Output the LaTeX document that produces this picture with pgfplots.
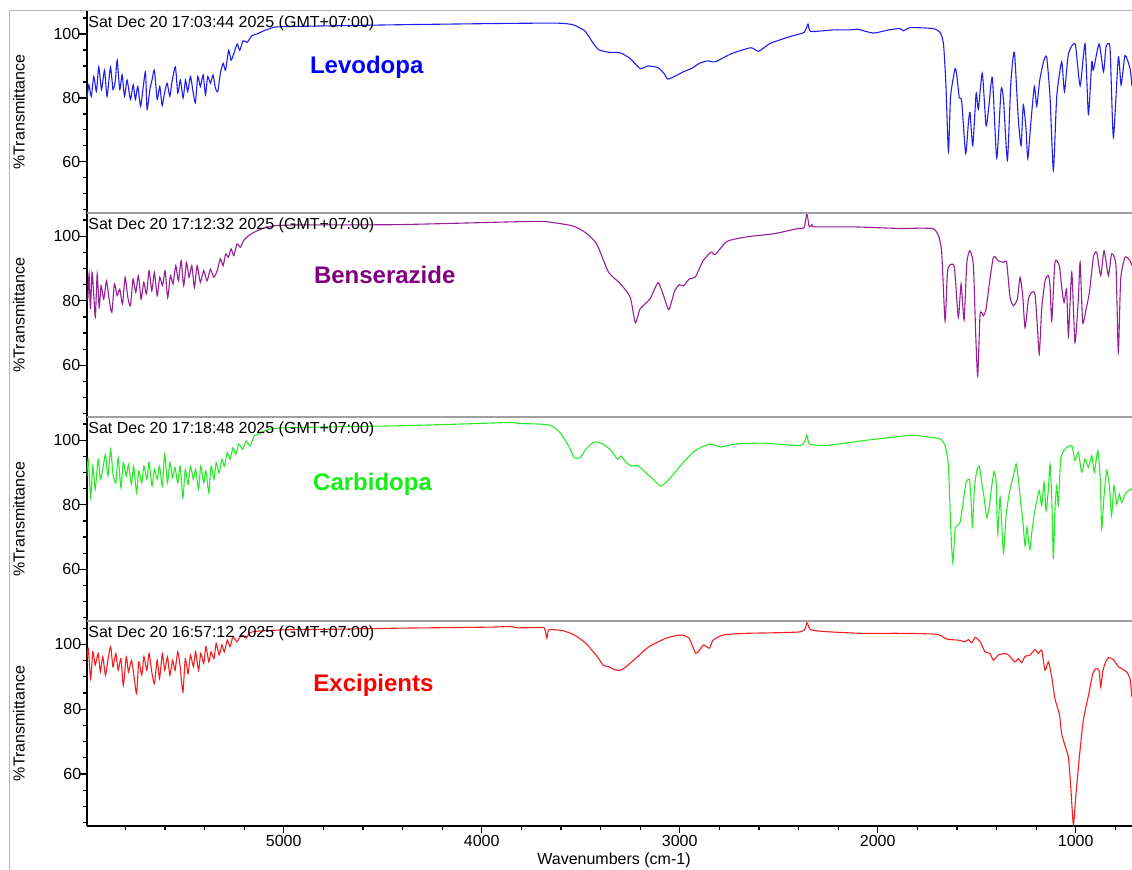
\documentclass[border=0pt]{standalone}
\usepackage{fontspec}
\setmainfont{Liberation Sans}
\usepackage{pgfplots}
\usepackage{pgfplotstable}
\pgfplotsset{compat=1.18}
\definecolor{cLev}{RGB}{30,30,240}
\definecolor{cLevT}{RGB}{0,0,255}
\definecolor{cBen}{RGB}{150,30,150}
\definecolor{cBenT}{RGB}{128,0,128}
\definecolor{cCar}{RGB}{40,235,40}
\definecolor{cCarT}{RGB}{20,240,20}
\definecolor{cExc}{RGB}{245,30,30}
\definecolor{cExcT}{RGB}{255,0,0}
\definecolor{sepgray}{RGB}{160,160,160}
\definecolor{framegray}{RGB}{180,180,180}

\pgfplotstableread{
x y
5993 80.0
5984 84.1
5972 80.5
5959 86.7
5946 82.0
5934 89.7
5920 82.6
5905 88.7
5892 80.5
5875 89.7
5862 82.6
5850 85.6
5841 91.8
5828 82.6
5816 87.2
5804 80.5
5791 85.6
5774 79.5
5760 84.1
5749 79.5
5737 83.6
5723 77.4
5710 83.1
5698 88.2
5690 76.4
5676 82.6
5665 85.6
5653 88.7
5639 79.5
5626 83.6
5614 77.6
5602 81.5
5589 84.6
5575 80.5
5564 85.1
5547 89.7
5535 81.5
5522 85.6
5508 80.0
5496 85.6
5485 82.0
5471 86.7
5458 82.0
5446 78.5
5434 86.7
5421 83.6
5407 87.2
5395 81.0
5384 86.7
5370 84.6
5357 87.2
5345 83.1
5333 82.0
5320 87.7
5306 90.8
5294 88.7
5278 94.9
5266 91.8
5252 93.8
5235 96.9
5222 94.9
5205 97.9
5185 97.4
5160 99.5
5135 100.0
5101 101.0
5050 102.1
5000 102.3
4916 102.4
4418 102.9
3899 103.3
3619 103.4
3540 102.9
3480 101.0
3440 97.4
3410 95.1
3360 94.3
3300 94.1
3250 92.3
3200 89.2
3160 90.0
3110 89.5
3080 87.7
3060 85.9
3021 86.9
2981 88.2
2941 89.2
2901 90.8
2861 91.6
2821 91.3
2741 93.8
2641 95.7
2601 94.6
2542 97.1
2442 99.2
2372 100.5
2352 103.1
2338 100.8
2222 101.3
2139 101.3
2102 101.5
2022 100.3
1943 101.3
1887 101.7
1870 101.0
1836 102.0
1719 101.7
1685 100.5
1668 96.9
1656 84.6
1643 63.1
1632 80.5
1609 89.2
1598 85.6
1588 80.0
1576 79.0
1556 62.6
1542 72.3
1534 75.4
1520 65.1
1503 81.5
1492 76.4
1472 87.7
1453 71.3
1438 77.9
1421 86.3
1399 61.2
1377 82.6
1365 79.5
1345 60.5
1328 84.6
1310 94.3
1290 73.3
1276 65.1
1265 77.9
1251 70.2
1242 61.0
1226 72.8
1209 83.6
1197 77.4
1183 85.1
1163 91.3
1147 92.8
1130 80.5
1113 57.4
1096 80.5
1071 91.3
1057 82.0
1037 93.8
1003 96.9
978 83.8
953 96.9
936 74.9
919 91.3
911 88.7
882 96.9
860 88.2
847 95.9
827 95.7
810 67.7
785 92.8
771 84.1
751 93.3
726 89.2
716 83.6
}\levodopa

\pgfplotstableread{
x y
5989 80.5
5983 88.3
5976 77.4
5968 88.8
5959 81.6
5951 74.8
5942 88.3
5932 77.9
5922 84.7
5909 80.5
5895 86.2
5882 80.5
5868 76.4
5855 85.2
5841 81.6
5828 83.6
5814 79.0
5801 87.3
5787 81.0
5774 78.4
5761 86.7
5747 82.6
5734 87.8
5720 80.5
5707 85.7
5693 82.1
5680 89.3
5666 83.1
5653 88.8
5639 81.6
5626 87.3
5612 84.7
5599 89.3
5586 81.0
5572 87.8
5559 85.2
5545 90.9
5532 86.2
5518 92.4
5505 84.7
5491 91.9
5478 87.3
5464 90.9
5451 84.1
5437 90.9
5421 85.7
5404 89.3
5387 86.2
5370 89.8
5353 87.3
5336 89.3
5320 93.0
5306 90.9
5293 94.5
5279 93.5
5266 96.1
5252 94.0
5236 97.6
5219 96.6
5202 98.7
5177 100.2
5151 101.2
5118 102.1
5084 102.8
5034 103.3
4916 103.5
4418 103.6
3739 104.6
3639 104.2
3540 103.2
3480 101.3
3420 97.7
3360 88.9
3300 85.3
3250 81.1
3224 73.2
3200 77.5
3150 80.6
3110 85.6
3085 82.2
3055 77.3
3025 83.2
3001 85.0
2981 84.6
2951 86.8
2921 87.4
2881 92.5
2841 95.1
2821 94.3
2761 98.4
2661 99.8
2522 100.8
2402 102.4
2372 102.6
2358 107.0
2346 102.9
2332 103.6
2318 102.9
2122 102.9
1887 102.4
1786 102.5
1719 102.3
1693 100.2
1677 95.0
1660 73.8
1648 88.8
1635 91.1
1613 90.4
1593 74.8
1579 85.2
1564 74.1
1550 91.9
1534 95.5
1517 90.9
1505 69.2
1495 56.7
1483 75.9
1466 75.4
1453 77.4
1441 83.1
1416 93.5
1391 92.4
1365 91.9
1349 91.9
1332 81.1
1315 78.5
1295 80.5
1281 87.3
1268 81.6
1256 71.7
1239 80.5
1222 82.6
1206 82.1
1194 72.3
1184 63.5
1172 77.4
1155 86.2
1138 87.8
1130 84.7
1121 73.8
1105 91.9
1083 90.9
1071 84.2
1059 79.5
1046 83.6
1037 69.2
1020 88.8
1004 67.1
987 80.5
978 91.9
965 73.3
948 77.4
931 82.6
911 93.5
894 95.0
874 87.8
857 95.5
835 87.8
819 94.5
797 90.9
785 64.0
773 86.7
751 93.5
726 92.4
716 90.9
}\benserazide

\pgfplotstableread{
x y
5995 88.9
5987 94.1
5975 82.2
5964 92.0
5952 84.8
5937 94.1
5926 87.9
5914 91.0
5900 95.6
5888 88.9
5874 97.2
5862 89.4
5848 86.8
5836 94.6
5822 85.3
5810 93.1
5795 88.9
5784 92.5
5769 86.3
5758 92.0
5743 83.7
5732 90.5
5717 86.8
5706 92.0
5691 87.9
5680 93.1
5665 85.8
5653 91.0
5639 87.9
5627 92.0
5613 85.8
5601 95.6
5587 86.8
5575 93.1
5561 88.4
5549 91.5
5535 86.8
5523 92.0
5509 82.2
5497 91.0
5483 86.3
5471 92.0
5456 87.9
5445 91.0
5430 84.8
5419 92.0
5404 86.8
5393 90.5
5378 83.7
5367 92.0
5352 87.9
5341 93.1
5326 89.9
5312 94.1
5300 92.0
5285 96.2
5271 94.1
5256 97.7
5242 95.6
5227 98.8
5207 97.2
5190 99.8
5170 98.2
5149 101.3
5126 101.9
5097 102.9
5054 103.6
4981 103.9
4691 104.2
4402 104.5
4112 105.0
3851 105.5
3822 105.2
3706 105.0
3648 104.5
3605 102.4
3561 98.2
3532 94.6
3503 94.6
3474 97.2
3431 99.5
3387 98.8
3344 96.7
3315 94.1
3295 95.1
3271 93.1
3242 92.0
3213 92.2
3170 89.9
3126 87.4
3097 85.8
3068 87.0
3025 89.9
2982 93.1
2924 96.7
2851 98.8
2793 97.9
2721 98.8
2576 99.1
2387 98.4
2358 101.6
2344 98.8
2257 98.4
2083 99.8
1887 101.2
1820 101.6
1736 100.9
1685 100.4
1660 98.3
1643 92.1
1631 72.5
1621 62.1
1609 72.5
1598 73.5
1584 74.6
1571 79.7
1554 86.9
1537 87.9
1530 82.8
1522 73.5
1512 84.9
1500 90.6
1487 91.9
1475 86.9
1463 82.3
1449 76.1
1436 79.7
1424 85.9
1412 90.3
1402 86.9
1394 70.9
1382 82.3
1365 65.2
1352 76.6
1335 83.8
1315 89.0
1301 92.6
1290 87.9
1278 80.7
1268 75.5
1256 67.3
1247 73.0
1239 69.4
1231 66.2
1222 71.4
1211 76.6
1197 81.2
1184 84.4
1172 79.7
1160 86.9
1150 78.1
1138 84.9
1130 92.6
1121 81.8
1113 63.1
1105 78.7
1096 85.9
1088 79.7
1076 94.2
1054 97.3
1020 98.3
1004 93.7
987 96.3
970 90.1
953 94.2
936 91.6
919 95.2
906 90.1
889 96.8
877 89.0
869 72.5
857 82.8
844 90.6
830 85.9
819 76.6
807 85.9
793 80.2
780 83.3
768 80.7
751 83.3
734 84.4
716 84.9
}\carbidopa

\pgfplotstableread{
x y
5995 95.1
5987 98.8
5975 89.4
5964 97.7
5952 93.6
5937 97.2
5926 91.5
5914 96.2
5900 90.5
5888 95.1
5874 99.3
5862 93.1
5848 97.2
5836 92.0
5822 95.6
5810 87.4
5795 96.2
5784 91.5
5769 95.1
5758 91.0
5743 84.8
5732 94.6
5717 90.5
5706 96.2
5691 92.0
5680 97.2
5665 91.0
5653 87.9
5639 95.1
5627 89.4
5613 97.2
5601 92.0
5587 96.2
5575 90.5
5561 95.1
5549 92.0
5535 97.7
5523 93.1
5509 85.3
5497 95.6
5483 91.0
5471 96.7
5456 93.1
5445 97.7
5430 92.0
5419 97.2
5404 94.1
5393 99.3
5378 94.6
5367 97.7
5352 95.6
5341 100.3
5326 96.7
5312 99.8
5300 97.7
5285 101.3
5271 99.3
5256 102.4
5236 100.8
5213 102.9
5190 101.9
5170 103.6
5126 104.1
4981 104.5
4691 104.7
4402 105.0
3967 105.3
3851 105.5
3822 105.1
3706 105.2
3683 105.0
3671 101.9
3660 104.5
3590 104.2
3532 102.9
3474 100.3
3416 96.2
3387 93.6
3358 93.1
3329 92.2
3300 92.0
3271 93.1
3213 96.2
3155 99.3
3068 101.9
2996 102.9
2953 101.9
2918 97.2
2880 99.8
2851 98.8
2831 101.3
2779 102.9
2663 103.4
2387 103.9
2358 106.7
2338 104.5
2257 103.9
2083 103.4
1886 103.4
1702 103.1
1651 101.6
1593 101.3
1559 100.8
1542 101.5
1525 100.5
1508 102.2
1483 100.8
1458 97.7
1433 97.2
1416 95.1
1391 96.7
1357 97.2
1340 96.7
1307 94.6
1290 95.6
1273 94.3
1256 96.3
1231 96.7
1206 98.4
1189 97.2
1172 98.2
1155 92.0
1138 94.6
1121 89.9
1105 83.2
1083 78.6
1071 72.4
1054 68.7
1037 65.1
1025 55.8
1012 44.4
999 53.7
982 65.1
962 76.5
936 84.2
914 91.0
898 92.5
882 92.0
874 86.8
864 91.5
852 94.1
835 95.9
810 95.3
785 93.1
768 92.5
743 91.5
726 89.4
716 83.7
}\excipients

\pgfplotsset{
  ftir/.style={
    scale only axis, width=522.65pt,
    x dir=reverse, xmin=716, xmax=5995, ymin=44, ymax=107.2,
    axis y line*=left,
    ytick={60,80,100},
    minor ytick={45,50,55,65,70,75,85,90,95,105},
    tick align=outside, major tick length=4pt, minor tick length=2pt,
    every tick/.style={black, line width=0.6pt},
    axis line style={black, line width=1pt},
    tick label style={font=\fontsize{8}{9.6}\selectfont},
    yticklabel style={anchor=east, inner sep=0pt, xshift=1pt},
    /pgf/number format/assume math mode=true,
    anchor=south west,
  },
  spec/.style={line width=0.55pt, smooth, tension=0.35},
}

\begin{document}
\begin{tikzpicture}[x=1pt,y=1pt]
\useasboundingbox (0,0) rectangle (566,-435);
% outer frame
\draw[framegray, line width=0.5pt] (4.5,-435) -- (4.5,-5.25) -- (566,-5.25);

\begin{axis}[ftir, axis x line=none, at={(43.35pt,-106.5pt)}, height=101pt]
\addplot[cLev, spec] table {\levodopa};
\end{axis}
\begin{axis}[ftir, axis x line=none, at={(43.35pt,-208.5pt)}, height=102pt]
\addplot[cBen, spec] table {\benserazide};
\end{axis}
\begin{axis}[ftir, axis x line=none, at={(43.35pt,-310.5pt)}, height=102pt]
\addplot[cCar, spec] table {\carbidopa};
\end{axis}
\begin{axis}[ftir, at={(43.35pt,-413pt)}, height=102.5pt,
  axis x line*=bottom,
  xtick={1000,2000,3000,4000,5000},
  xticklabels={1000,2000,3000,4000,5000},
  minor xtick={800,1000,...,5800},
  major tick length=3.5pt, minor tick length=2pt,
  xticklabel style={anchor=north, inner sep=0pt, yshift=-1pt}]
\addplot[cExc, spec] table {\excipients};
\end{axis}

% panel separators
\draw[sepgray, line width=0.75pt] (43.35,-106.5) -- (566,-106.5);
\draw[sepgray, line width=0.75pt] (43.35,-208.5) -- (566,-208.5);
\draw[sepgray, line width=0.75pt] (43.35,-310.5) -- (566,-310.5);

% date stamps
\begin{scope}[every node/.style={anchor=base west, inner sep=0pt, font=\fontsize{8}{9.6}\selectfont}]
\node at (44,-13.7) {Sat Dec 20 17:03:44 2025 (GMT+07:00)};
\node at (44,-115) {Sat Dec 20 17:12:32 2025 (GMT+07:00)};
\node at (44,-217) {Sat Dec 20 17:18:48 2025 (GMT+07:00)};
\node at (44,-318.8) {Sat Dec 20 16:57:12 2025 (GMT+07:00)};
\end{scope}

% sample names
\begin{scope}[every node/.style={anchor=base west, inner sep=0pt, font=\fontsize{12}{14}\selectfont\bfseries}]
\node[text=cLevT] at (154.8,-37) {Levodopa};
\node[text=cBenT] at (156.8,-141.8) {Benserazide};
\node[text=cCarT] at (156.4,-245.5) {Carbidopa};
\node[text=cExcT] at (156.5,-346) {Excipients};
\end{scope}

% y labels
\begin{scope}[every node/.style={rotate=90, anchor=center, inner sep=0pt, font=\fontsize{8}{9.6}\selectfont}]
\node at (9.5,-56) {\%Transmittance};
\node at (9.5,-157.5) {\%Transmittance};
\node at (9.5,-259.5) {\%Transmittance};
\node at (9.5,-361.8) {\%Transmittance};
\end{scope}

% x label
\node[anchor=base, inner sep=0pt, font=\fontsize{8}{9.6}\selectfont] at (307,-432.5) {Wavenumbers (cm-1)};
\end{tikzpicture}
\end{document}
